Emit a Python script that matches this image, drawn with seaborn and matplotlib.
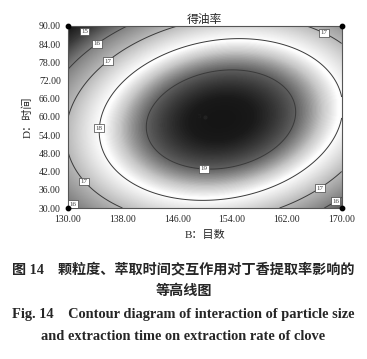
import numpy as np
import matplotlib
matplotlib.use("Agg")
import matplotlib.pyplot as plt
import seaborn as sns
from matplotlib.colors import LinearSegmentedColormap

# factor ranges
mesh_range = [130, 170]      # B: 目数
time_range = [30, 90]        # D: 时间
x_ticks = [130, 138, 146, 154, 162, 170]
y_ticks = [30, 36, 42, 48, 54, 60, 66, 72, 78, 84, 90]

# quadratic model in coded units
# 1, A, B, AB, A^2, B^2
model_coef = [19.57, 0.511, -0.191, 0.623, -2.076, -2.080]
levels = [15, 16, 17, 18, 19]

# where the contour labels sit
label_pos = [(132.6, 87.7), (134.3, 84.0), (135.8, 78.6), (167.6, 88.6),
             (134.6, 56.3), (149.9, 41.8), (132.5, 38.9), (130.9, 31.6),
             (166.1, 38.9), (169.0, 32.6)]

# design points
corner_x = [130, 130, 170, 170]
corner_y = [30, 90, 30, 90]
center_pt = (150, 60)
center_n = "5"

sns.set_style("white")
plt.rcParams['font.family'] = ['Liberation Serif', 'Noto Sans CJK SC']

fig = plt.figure(figsize=(3.67, 3.59), dpi=100)
ax = fig.add_axes([0.1845, 0.4206, 0.7465, 0.5074])

x = np.linspace(mesh_range[0], mesh_range[1], 300)
y = np.linspace(time_range[0], time_range[1], 300)
X, Y = np.meshgrid(x, y)
A = (X - 150) / 20
B = (Y - 60) / 30
c = model_coef
Z = c[0] + c[1]*A + c[2]*B + c[3]*A*B + c[4]*A**2 + c[5]*B**2

# Design-Expert style grey shading
lo, hi = 14.0, 20.0
stops = [(14.0, 0.05), (15.0, 0.22), (16.0, 0.5), (17.0, 0.72), (17.95, 0.98),
         (18.1, 1.0), (18.5, 0.78), (19.0, 0.38), (19.5, 0.1), (20.0, 0.03)]
cmap = LinearSegmentedColormap.from_list(
    "dx", [((v - lo) / (hi - lo), (g, g, g)) for v, g in stops])
ax.imshow(Z, extent=[130, 170, 30, 90], origin="lower", aspect="auto",
          cmap=cmap, vmin=lo, vmax=hi, interpolation="bilinear")
cs = ax.contour(X, Y, Z, levels=levels, colors="#3a3a3a", linewidths=0.7)
txts = ax.clabel(cs, fmt="%d", fontsize=5, manual=label_pos, inline=False)
for t in txts:
    t.set_bbox(dict(boxstyle="square,pad=0.2", fc="white", ec="#444444", lw=0.5))
    t.set_rotation(0)

ax.scatter(corner_x, corner_y, s=10, color="black", clip_on=False, zorder=5)
ax.plot(*center_pt, marker="o", ms=2, color="#222222")
ax.text(center_pt[0] - 0.6, center_pt[1], center_n, fontsize=5, ha="right",
        va="center", color="#222222")

ax.set_xlim(mesh_range)
ax.set_ylim(time_range)
ax.set_xticks(x_ticks)
ax.set_yticks(y_ticks)
ax.set_xticklabels([f"{v:.2f}" for v in x_ticks], fontsize=7)
ax.set_yticklabels([f"{v:.2f}" for v in y_ticks], fontsize=7)
ax.tick_params(direction="out", length=3, width=0.6, pad=2, color="#333333")
ax.tick_params(axis="x", top=False)
ax.tick_params(axis="y", right=False)
for s in ax.spines.values():
    s.set_color("#555555")
    s.set_linewidth(0.8)

ax.set_title("得油率", fontsize=8.5, pad=2)
ax.set_xlabel("B：目数", fontsize=8, labelpad=4)
ax.set_ylabel("D：时间", fontsize=8, labelpad=4)

# figure caption
fig.text(0.5, 0.248, "图 14    颗粒度、萃取时间交互作用对丁香提取率影响的",
         ha="center", va="center", fontsize=10.2, fontweight="bold")
fig.text(0.5, 0.189, "等高线图", ha="center", va="center", fontsize=10.2,
         fontweight="bold")
fig.text(0.5, 0.1226, "Fig. 14    Contour diagram of interaction of particle size",
         ha="center", va="center", fontsize=10.4, fontweight="bold")
fig.text(0.5, 0.0613, "and extraction time on extraction rate of clove",
         ha="center", va="center", fontsize=10.4, fontweight="bold")

fig.savefig("out.png", dpi=100)
